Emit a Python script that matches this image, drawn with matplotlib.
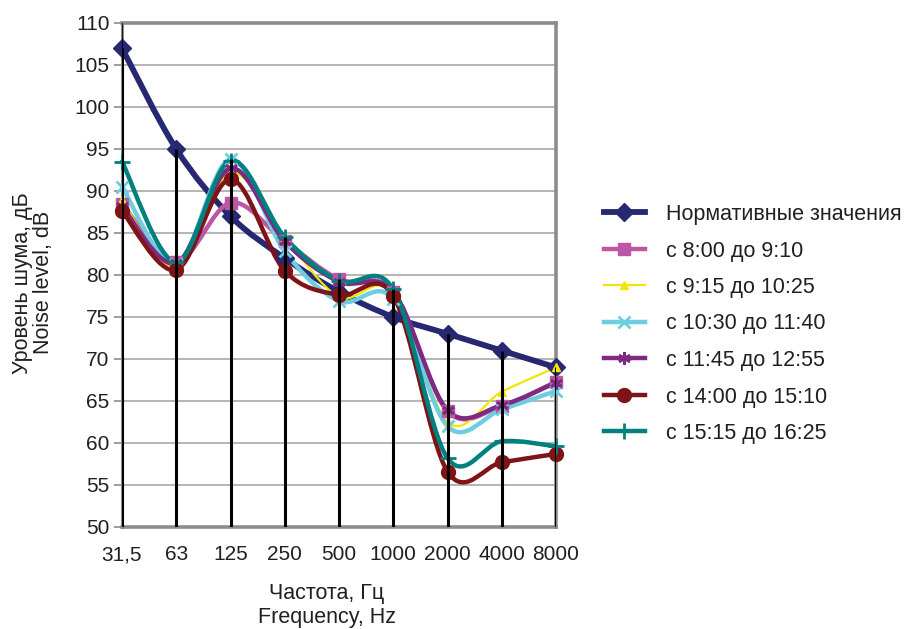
import numpy as np
import matplotlib
matplotlib.use("Agg")
import matplotlib.pyplot as plt
from matplotlib.path import Path
from matplotlib.patches import PathPatch
from matplotlib.lines import Line2D

plt.rcParams['font.family'] = ['Liberation Sans', 'DejaVu Sans']

freq_labels = ["31,5", "63", "125", "250", "500", "1000", "2000", "4000", "8000"]

norm = [107, 95, 87, 82, 78, 75, 73, 71, 69]
s_0800 = [88.5, 81.6, 88.6, 84.0, 79.5, 78.0, 63.8, 64.4, 67.3]
s_0915 = [88.9, 81.0, 92.1, 84.5, 77.4, 78.0, 62.5, 66.1, 69.0]
s_1030 = [90.5, 81.3, 93.8, 82.8, 76.9, 77.2, 62.0, 64.0, 66.2]
s_1145 = [88.2, 81.4, 92.7, 84.0, 79.2, 78.0, 63.9, 64.5, 67.2]
s_1400 = [87.6, 80.6, 91.4, 80.5, 77.6, 77.5, 56.6, 57.7, 58.7]
s_1515 = [93.5, 81.5, 93.6, 84.5, 79.3, 78.3, 58.2, 60.2, 59.6]

labels = ["Нормативные значения", "с 8:00 до 9:10", "с 9:15 до 10:25",
          "с 10:30 до 11:40", "с 11:45 до 12:55", "с 14:00 до 15:10",
          "с 15:15 до 16:25"]
series = [norm, s_0800, s_0915, s_1030, s_1145, s_1400, s_1515]

# colour, line width, marker, marker size
styles = [
    ("#272872", 4.2, "D", 9),
    ("#BD56A5", 3.2, "s", 9),
    ("#F2E600", 1.6, "^", 6),
    ("#6FCDE0", 3.2, "x", 8),
    ("#7E2A82", 3.2, (6, 2, 0), 9),
    ("#7F1416", 3.2, "o", 10),
    ("#00807F", 3.2, "+", 11),
]

TEXT = "#231F20"


def smooth_path(xs, ys):
    # excel-like smoothed line: cubic bezier through every point
    pts = np.column_stack([xs, ys]).astype(float)
    n = len(pts)
    verts = [pts[0]]
    codes = [Path.MOVETO]
    for i in range(n - 1):
        p0 = pts[max(i - 1, 0)]
        p1 = pts[i]
        p2 = pts[i + 1]
        p3 = pts[min(i + 2, n - 1)]
        c1 = p1 + (p2 - p0) / 6.0
        c2 = p2 - (p3 - p1) / 6.0
        verts += [c1, c2, p2]
        codes += [Path.CURVE4] * 3
    return Path(verts, codes)


fig = plt.figure(figsize=(9.07, 6.29), dpi=100)
ax = fig.add_axes([122 / 907, 102 / 629, 434 / 907, 504 / 629])

x = np.arange(len(freq_labels))

for vals, (col, lw, mk, ms) in zip(series, styles):
    patch = PathPatch(smooth_path(x, vals), facecolor="none", edgecolor=col,
                      lw=lw, zorder=3, capstyle="round", joinstyle="round")
    patch.set_clip_on(False)
    ax.add_patch(patch)
    mew = 2.0 if mk in ("x", "+", (6, 2, 0)) else 1.0
    ax.plot(x, vals, linestyle="none", marker=mk, markersize=ms, color=col,
            markeredgewidth=mew, zorder=4, clip_on=False)

# drop lines from the highest point down to the axis
tops = np.max(np.array(series), axis=0)
ax.vlines(x, 50, tops, colors="black", lw=2.2, zorder=5)

ax.set_xlim(0, 8)
ax.set_ylim(50, 110)
ax.set_yticks(np.arange(50, 111, 5))
ax.set_xticks(x)
ax.set_xticklabels(freq_labels)
ax.grid(axis="y", color="#A8A8A8", lw=1.2, zorder=1)
ax.set_axisbelow(True)

for side in ["top", "right", "bottom"]:
    ax.spines[side].set_color("#8C8C8C")
    ax.spines[side].set_linewidth(2.6)
ax.spines["left"].set_color("#8C8C8C")
ax.spines["left"].set_linewidth(2.2)
ax.axvline(0, color="black", lw=1.2, zorder=6)

ax.tick_params(axis="y", length=6, width=1.2, color="#8C8C8C", labelsize=15,
               pad=3, labelcolor=TEXT)
ax.tick_params(axis="x", length=0, labelsize=15, pad=13, labelcolor=TEXT)

fig.text(327 / 907, 1 - 593 / 629, "Частота, Гц", ha="center", va="center",
         fontsize=15.5, color=TEXT)
fig.text(327 / 907, 1 - 618 / 629, "Frequency, Hz", ha="center", va="center",
         fontsize=15.5, color=TEXT)
fig.text(23 / 907, 1 - 283 / 629, "Уровень шума, дБ", ha="center", va="center",
         rotation=90, fontsize=15.5, color=TEXT)
fig.text(44 / 907, 1 - 282 / 629, "Noise level, dB", ha="center", va="center",
         rotation=90, fontsize=15.5, color=TEXT)

handles = []
for (col, lw, mk, ms) in styles:
    mew = 2.0 if mk in ("x", "+", (6, 2, 0)) else 1.0
    handles.append(Line2D([], [], color=col, lw=lw, marker=mk, markersize=ms,
                          markeredgewidth=mew))
fig.legend(handles, labels, loc="center left",
           bbox_to_anchor=(604 / 907, 1 - 324 / 629), frameon=False,
           fontsize=15.5, handlelength=1.9, handletextpad=1.0, labelspacing=0.72,
           borderpad=0, borderaxespad=0, labelcolor=TEXT)

fig.savefig("out.png", dpi=100)
